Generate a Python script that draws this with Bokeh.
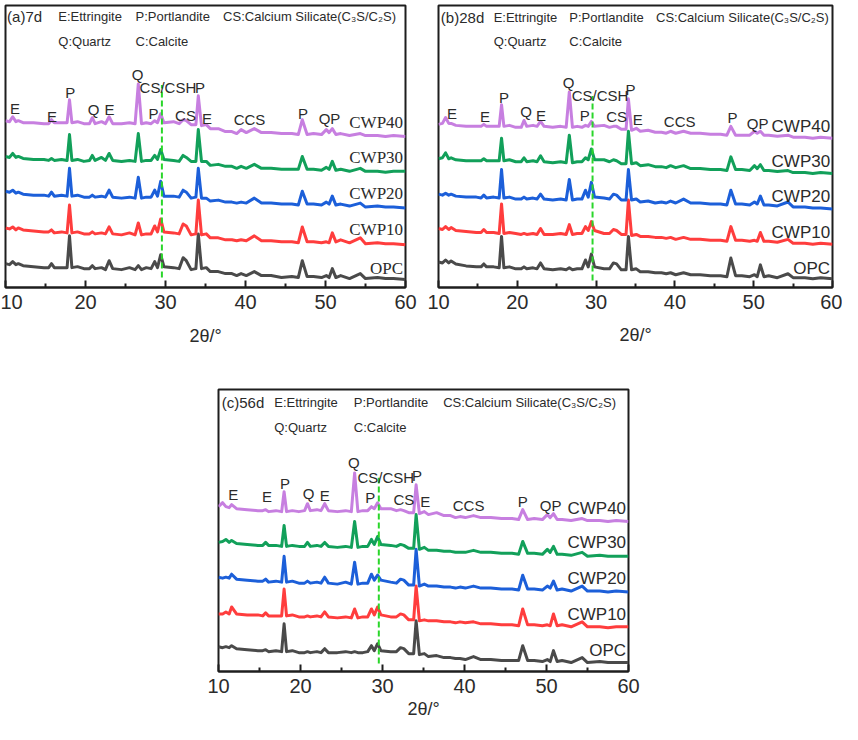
from bokeh.plotting import figure
from bokeh.layouts import column, row
from bokeh.models import Range1d, FixedTicker, ColumnDataSource, Label, Spacer
from bokeh.core.properties import value
from bokeh.embed import file_html
from bokeh.resources import INLINE

# ---------------- data (intensity in arbitrary units, stacked) -------------
TWO_THETA = [10.0, 10.5, 10.9, 11.3, 11.6, 12.2, 13.5, 14.8, 15.4, 15.75, 16.1, 17.0, 17.7, 18.0,
             18.3, 19.0, 19.8, 20.5, 20.85, 21.2, 22.0, 22.5, 22.95, 23.4, 24.5, 25.5, 26.2, 26.6,
             27.0, 27.6, 28.2, 28.65, 29.0, 29.4, 29.8, 31.0, 31.7, 32.2, 32.6, 33.2, 33.8, 34.1,
             34.5, 35.1, 35.6, 36.6, 37.5, 38.3, 38.9, 39.45, 40.1, 41.1, 42.0, 43.2, 44.5, 45.8,
             46.6, 47.1, 47.7, 48.5, 49.5, 50.1, 50.45, 50.85, 51.3, 51.9, 53.0, 54.35, 55.0, 56.5,
             57.5, 58.5, 60.0]

SAMPLES = ["OPC", "CWP10", "CWP20", "CWP30", "CWP40"]

# (a) 7 d
D7_OPC = [24, 23, 26, 23, 24, 22, 21, 20, 20, 24, 20, 20, 20, 52, 20, 21, 19, 19, 22, 19, 20, 18, 27, 19,
          18, 20, 18, 22, 18, 20, 19, 26, 20, 33, 21, 20, 19, 30, 27, 18, 19, 54, 19, 20, 16, 16, 14, 14,
          12, 14, 12, 16, 12, 12, 10, 11, 10, 27, 11, 11, 10, 12, 10, 19, 10, 12, 9, 14, 9, 10, 9, 9, 8]
D7_CWP10 = [60, 59, 61, 58, 60, 58, 57, 56, 56, 58, 55, 56, 55, 83, 55, 56, 54, 54, 56, 54, 55, 54, 61, 54,
            53, 55, 53, 65, 53, 54, 54, 62, 56, 69, 56, 55, 54, 64, 62, 53, 54, 88, 53, 54, 50, 50, 48, 48,
            47, 48, 47, 52, 47, 47, 46, 46, 45, 61, 46, 46, 45, 46, 45, 55, 46, 48, 45, 50, 44, 45, 44, 44, 43]
D7_CWP20 = [97, 96, 98, 95, 96, 94, 93, 93, 92, 96, 92, 93, 92, 120, 92, 93, 91, 91, 93, 91, 92, 91, 98, 91,
            90, 91, 90, 111, 90, 91, 91, 98, 92, 107, 92, 92, 91, 98, 96, 90, 91, 120, 90, 90, 87, 88, 86,
            86, 85, 86, 85, 90, 85, 85, 84, 84, 83, 97, 84, 84, 83, 86, 84, 92, 83, 84, 82, 85, 81, 82, 81,
            81, 80]
D7_CWP30 = [132, 131, 135, 131, 132, 130, 129, 129, 128, 130, 128, 129, 128, 154, 128, 129, 127, 128, 133,
            128, 131, 128, 135, 128, 127, 128, 127, 155, 127, 128, 128, 133, 129, 139, 129, 128, 127, 133,
            131, 127, 127, 159, 127, 127, 123, 124, 122, 122, 120, 122, 120, 124, 120, 120, 119, 119, 119,
            132, 119, 119, 118, 121, 119, 127, 118, 119, 117, 120, 117, 117, 116, 117, 117]
D7_CWP40 = [168, 167, 172, 167, 168, 166, 166, 165, 165, 169, 166, 166, 166, 189, 166, 167, 165, 165, 171,
            165, 167, 165, 172, 165, 165, 166, 165, 205, 165, 166, 165, 168, 166, 175, 166, 167, 165, 169,
            168, 164, 164, 193, 163, 164, 160, 160, 157, 157, 155, 159, 156, 160, 156, 156, 155, 155, 154,
            169, 154, 155, 154, 159, 156, 160, 154, 155, 153, 155, 153, 153, 152, 153, 152]

# (b) 28 d
D28_OPC = [26, 25, 28, 25, 27, 24, 22, 21, 21, 24, 21, 21, 20, 52, 20, 21, 19, 19, 21, 19, 20, 19, 25, 19,
           18, 19, 18, 20, 18, 19, 19, 28, 21, 34, 21, 19, 19, 25, 24, 18, 18, 52, 18, 19, 16, 16, 15, 15,
           14, 15, 13, 15, 13, 13, 12, 12, 11, 30, 12, 12, 11, 13, 11, 23, 11, 12, 10, 14, 10, 10, 9, 10, 9]
D28_CWP10 = [60, 59, 62, 59, 61, 58, 57, 56, 56, 59, 56, 56, 55, 85, 55, 56, 55, 54, 55, 54, 55, 54, 60, 54,
             54, 55, 54, 64, 54, 55, 55, 62, 58, 67, 58, 55, 55, 59, 58, 54, 54, 89, 53, 54, 52, 52, 51, 51,
             50, 51, 49, 51, 49, 49, 48, 48, 47, 62, 48, 48, 47, 48, 47, 56, 47, 47, 46, 49, 45, 45, 44, 45, 44]
D28_CWP20 = [95, 94, 96, 94, 95, 93, 92, 92, 91, 94, 91, 92, 91, 120, 91, 92, 90, 90, 92, 90, 91, 90, 95, 90,
             89, 90, 89, 110, 89, 90, 90, 99, 92, 107, 92, 91, 90, 95, 94, 89, 89, 120, 89, 90, 87, 88, 86,
             87, 86, 88, 86, 90, 86, 86, 85, 85, 84, 99, 85, 85, 84, 87, 85, 93, 84, 84, 83, 87, 82, 82, 81,
             81, 80]
D28_CWP30 = [131, 132, 137, 131, 132, 130, 129, 129, 129, 131, 129, 129, 129, 152, 129, 130, 128, 128, 132,
             128, 129, 128, 134, 128, 127, 128, 127, 155, 127, 128, 128, 132, 130, 141, 130, 130, 128, 130,
             129, 126, 126, 159, 126, 127, 124, 125, 123, 123, 122, 124, 122, 124, 121, 121, 120, 120, 119,
             133, 120, 120, 119, 124, 121, 125, 119, 119, 118, 119, 117, 117, 116, 117, 116]
D28_CWP40 = [166, 167, 173, 167, 167, 165, 164, 164, 164, 166, 164, 164, 164, 186, 164, 165, 163, 163, 170,
             164, 165, 164, 169, 164, 163, 164, 163, 199, 163, 164, 163, 165, 164, 169, 164, 165, 163, 164,
             164, 161, 161, 192, 160, 162, 159, 160, 158, 158, 157, 159, 157, 159, 157, 157, 156, 156, 155,
             164, 155, 155, 155, 159, 157, 159, 155, 155, 154, 155, 153, 153, 152, 153, 152]

# (c) 56 d
D56_OPC = [25, 24, 25, 24, 26, 23, 22, 21, 21, 22, 20, 21, 20, 48, 20, 21, 19, 19, 20, 19, 20, 19, 23, 19,
           19, 20, 19, 20, 19, 19, 20, 26, 21, 28, 21, 20, 20, 24, 23, 18, 18, 51, 17, 18, 15, 16, 14, 14,
           13, 13, 12, 15, 12, 12, 11, 11, 11, 26, 11, 11, 10, 12, 10, 21, 10, 11, 9, 14, 9, 10, 9, 9, 9]
D56_CWP10 = [58, 58, 60, 58, 65, 58, 57, 57, 56, 59, 56, 56, 56, 83, 56, 57, 55, 55, 56, 55, 56, 55, 60, 55,
             54, 55, 54, 63, 54, 55, 55, 63, 57, 65, 57, 55, 55, 58, 57, 52, 52, 86, 51, 52, 51, 51, 50, 50,
             49, 50, 49, 50, 48, 48, 47, 47, 46, 63, 47, 47, 46, 47, 46, 58, 46, 47, 45, 50, 45, 45, 44, 45, 45]
D56_CWP20 = [95, 94, 95, 94, 98, 93, 92, 91, 91, 93, 90, 91, 90, 116, 90, 91, 89, 89, 91, 89, 90, 89, 95, 89,
             88, 90, 88, 110, 88, 89, 89, 98, 92, 97, 92, 90, 89, 93, 92, 87, 87, 123, 86, 88, 86, 86, 85,
             85, 84, 85, 84, 86, 84, 84, 83, 83, 82, 97, 83, 83, 82, 86, 84, 91, 82, 83, 81, 86, 81, 81, 80,
             81, 80]
D56_CWP30 = [130, 131, 133, 130, 132, 129, 128, 127, 127, 130, 127, 127, 126, 147, 126, 127, 126, 126, 130,
             126, 127, 126, 130, 126, 125, 126, 125, 151, 125, 126, 126, 133, 128, 136, 128, 127, 126, 128,
             127, 124, 124, 158, 123, 125, 122, 122, 121, 121, 120, 120, 120, 122, 120, 120, 119, 119, 118,
             131, 119, 119, 118, 123, 120, 126, 118, 118, 117, 120, 116, 117, 116, 116, 116]
D56_CWP40 = [166, 170, 166, 165, 168, 164, 163, 162, 162, 163, 161, 162, 161, 181, 161, 162, 161, 162, 169,
             162, 163, 162, 169, 162, 161, 162, 161, 200, 161, 162, 162, 166, 164, 170, 164, 164, 162, 163,
             162, 160, 160, 188, 159, 161, 158, 160, 157, 157, 155, 156, 155, 157, 155, 155, 154, 154, 153,
             163, 153, 154, 153, 158, 155, 159, 153, 153, 152, 154, 152, 152, 151, 152, 151]

X_TICKS = [10, 20, 30, 40, 50, 60]
X_MINOR = [15, 25, 35, 45, 55]

PEAK_TEXT = ["E", "E", "P", "Q", "E", "Q", "CS/CSH", "P", "P", "CS", "E", "CCS", "P", "QP"]
PEAK_X_A = [11.2, 15.8, 18.1, 21.0, 23.0, 26.5, 30.3, 34.3, 28.5, 32.5, 35.2, 40.5, 47.2, 50.5]
PEAK_Y_A = [180, 172, 196, 179, 179, 215, 201, 201, 175, 173, 170, 169, 175, 170]
PEAK_X_B = [11.7, 15.9, 18.3, 21.1, 23.0, 26.5, 30.5, 34.35, 28.55, 32.6, 35.3, 40.6, 47.3, 50.5]
PEAK_Y_B = [177, 174, 193, 179, 175, 209, 195, 202, 175, 174, 171, 169, 173, 167]
PEAK_X_C = [11.8, 15.9, 18.1, 21.0, 22.95, 26.5, 30.4, 34.2, 28.5, 32.6, 35.2, 40.5, 47.1, 50.5]
PEAK_Y_C = [178, 176, 189, 179, 177, 210, 195, 197, 175, 173, 171, 167, 171, 167]

NAME_Y_A = [19, 58, 95, 131, 166]
NAME_Y_B = [19, 56, 93, 128, 164]
NAME_Y_C = [21, 57, 94, 130, 164]

LEGEND_LINE1 = ["E:Ettringite", "P:Portlandite", "CS:Calcium Silicate(C\u2083S/C\u2082S)"]
LEGEND_LINE2 = ["Q:Quartz", "C:Calcite"]
PANEL_TAGS = ["(a)7d", "(b)28d", "(c)56d"]

CSH_2THETA = 29.55
DASH_SPAN_A = [10, 204]
DASH_SPAN_B = [7, 195]
DASH_SPAN_C = [8, 195]

COLORS = ["#4a4a4a", "#ff3d3d", "#1c5fd9", "#12a05a", "#c77fe0"]
DASH_COLOR = "#2ad62a"
TEXT = "#2b2b2b"


def make_panel(tag, series, peak_x, peak_y, name_y, dash_span, ymax, width, height,
               left, right, top, bottom, tick_standoff, label_standoff,
               legend_x, legend_y, name_font, name_size):
    p = figure(width=width, height=height, x_range=Range1d(10, 60), y_range=Range1d(0, ymax),
               output_backend="svg", toolbar_location=None, y_axis_location=None,
               min_border_left=left, min_border_right=right, min_border_top=top,
               min_border_bottom=bottom)
    p.xgrid.visible = False
    p.ygrid.visible = False
    p.outline_line_color = "#1e1e1e"
    p.outline_line_width = 2
    p.outline_line_alpha = 1.0
    p.background_fill_color = "white"
    p.border_fill_color = "white"

    ax = p.xaxis[0]
    ax.ticker = FixedTicker(ticks=X_TICKS, minor_ticks=X_MINOR)
    ax.axis_line_color = "#1e1e1e"
    ax.axis_line_width = 2
    ax.major_tick_in = 7
    ax.major_tick_out = 0
    ax.minor_tick_in = 4
    ax.minor_tick_out = 0
    ax.major_tick_line_width = 2
    ax.minor_tick_line_width = 2
    ax.major_tick_line_color = "#1e1e1e"
    ax.minor_tick_line_color = "#1e1e1e"
    ax.major_label_text_font = "Liberation Sans"
    ax.major_label_text_font_size = "20px"
    ax.major_label_text_color = TEXT
    ax.major_label_standoff = tick_standoff
    ax.axis_label = "2\u03b8/\u00b0"
    ax.axis_label_text_font = "Liberation Sans"
    ax.axis_label_text_font_size = "18px"
    ax.axis_label_text_font_style = "normal"
    ax.axis_label_text_color = TEXT
    ax.axis_label_standoff = label_standoff

    for ys, c in zip(series, COLORS):
        p.line(TWO_THETA, ys, line_color=c, line_width=3, line_join="round")

    p.segment(x0=[CSH_2THETA], y0=[dash_span[0]], x1=[CSH_2THETA], y1=[dash_span[1]],
              line_color=DASH_COLOR, line_width=2, line_dash="6 3")

    src = ColumnDataSource(dict(x=peak_x, y=peak_y, text=PEAK_TEXT))
    p.text(x="x", y="y", text="text", source=src, text_font=value("Liberation Sans"),
           text_font_size=value("15px"), text_align="center", text_baseline="middle",
           text_color=TEXT)

    nsrc = ColumnDataSource(dict(x=[59.7] * len(SAMPLES), y=name_y, text=SAMPLES))
    p.text(x="x", y="y", text="text", source=nsrc, text_font=value(name_font),
           text_font_size=value(name_size), text_align="right", text_baseline="middle",
           text_color=TEXT)

    p.add_layout(Label(x=legend_x[0], y=legend_y[0], text=tag, text_font="Liberation Sans",
                       text_font_size="15px", text_baseline="middle", text_color=TEXT))
    for txt, xx in zip(LEGEND_LINE1, legend_x[1:]):
        p.add_layout(Label(x=xx, y=legend_y[0], text=txt, text_font="Liberation Sans",
                           text_font_size="13px", text_baseline="middle", text_color=TEXT))
    for txt, xx in zip(LEGEND_LINE2, legend_x[1:]):
        p.add_layout(Label(x=xx, y=legend_y[1], text=txt, text_font="Liberation Sans",
                           text_font_size="13px", text_baseline="middle", text_color=TEXT))
    return p


pa = make_panel(PANEL_TAGS[0], [D7_OPC, D7_CWP10, D7_CWP20, D7_CWP30, D7_CWP40],
                PEAK_X_A, PEAK_Y_A, NAME_Y_A, DASH_SPAN_A, 284, 422, 356,
                5, 17, 3, 69, 7, 14, [10.2, 16.6, 26.25, 37.2], [273, 248],
                "Liberation Serif", "17px")
pb = make_panel(PANEL_TAGS[1], [D28_OPC, D28_CWP10, D28_CWP20, D28_CWP30, D28_CWP40],
                PEAK_X_B, PEAK_Y_B, NAME_Y_B, DASH_SPAN_B, 287, 420, 356,
                16, 10, 5, 64, 7, 13, [10.3, 17.0, 26.6, 37.6], [275, 250],
                "Liberation Sans", "17px")
pc = make_panel(PANEL_TAGS[2], [D56_OPC, D56_CWP10, D56_CWP20, D56_CWP30, D56_CWP40],
                PEAK_X_C, PEAK_Y_C, NAME_Y_C, DASH_SPAN_C, 284, 442, 368,
                18, 14, 33, 53, 7, 3, [10.4, 16.8, 26.5, 37.4], [271, 246],
                "Liberation Sans", "17px")

layout = column(row(pa, pb), row(Spacer(width=200, height=10), pc))
open("out.html", "w").write(file_html(layout, INLINE))
